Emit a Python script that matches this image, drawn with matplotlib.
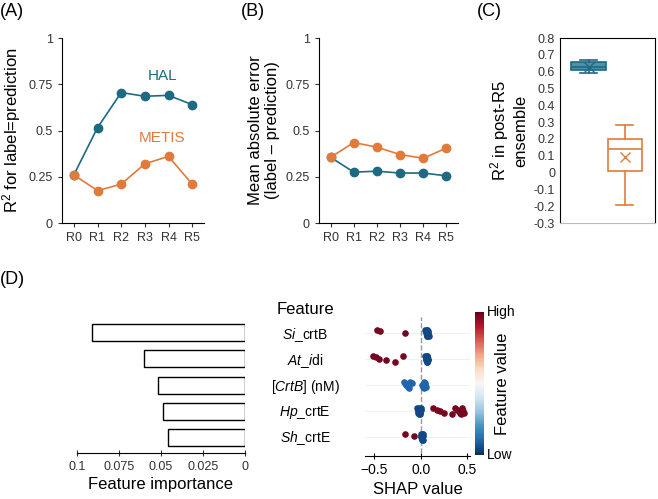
import numpy as np
import matplotlib.pyplot as plt
from matplotlib.cm import ScalarMappable
from matplotlib.colors import Normalize

plt.rcParams['font.family'] = ['Liberation Sans', 'DejaVu Sans']
plt.rcParams['mathtext.fontset'] = 'custom'
plt.rcParams['mathtext.rm'] = 'Liberation Sans'
plt.rcParams['mathtext.it'] = 'Liberation Sans:italic'

BLUE = '#1d6a82'
ORANGE = '#e07b3c'

rounds = ['R0', 'R1', 'R2', 'R3', 'R4', 'R5']
r2_hal = [0.26, 0.515, 0.705, 0.685, 0.69, 0.64]
r2_metis = [0.26, 0.175, 0.21, 0.32, 0.36, 0.21]
mae_hal = [0.355, 0.275, 0.28, 0.27, 0.27, 0.255]
mae_metis = [0.355, 0.435, 0.41, 0.37, 0.35, 0.405]

# box stats for panel C
box_hal = dict(whislo=0.59, q1=0.61, med=0.625, q3=0.655, whishi=0.67, mean=0.63, fliers=[])
box_metis = dict(whislo=-0.19, q1=0.01, med=0.14, q3=0.20, whishi=0.28, mean=0.09, fliers=[])

features = ['$\\it{Si}$_crtB', '$\\it{At\\_i}$di', '[$\\it{CrtB}$] (nM)', '$\\it{Hp}$_crtE', '$\\it{Sh}$_crtE']
importance = [0.091, 0.060, 0.052, 0.049, 0.046]

# SHAP values per feature: low-feature-value cluster and high-feature-value points
shap_low = [
    [0.04, 0.05, 0.06, 0.06, 0.07, 0.07, 0.08, 0.08, 0.09, 0.05, 0.06, 0.07, 0.08, 0.06, 0.07],
    [0.04, 0.05, 0.06, 0.06, 0.07, 0.07, 0.08, 0.08, 0.05, 0.06, 0.07, 0.06, 0.07, 0.05],
    [-0.18, -0.16, -0.14, -0.12, -0.10, -0.17, -0.13, 0.01, 0.02, 0.03, 0.04, 0.05, 0.03, 0.04],
    [-0.04, -0.03, -0.02, -0.01, 0.0, -0.03, -0.02, -0.01, -0.02, -0.03, 0.0, -0.01],
    [0.0, 0.01, 0.01, 0.02, 0.0, 0.01, 0.02, 0.01, 0.0, 0.01, 0.02, 0.01],
]
shap_high = [
    [-0.47, -0.44, -0.17],
    [-0.52, -0.48, -0.45, -0.38, -0.28, -0.19],
    [],
    [0.13, 0.17, 0.20, 0.25, 0.33, 0.37, 0.39, 0.41, 0.42, 0.43, 0.44, 0.45, 0.46, 0.44],
    [-0.17, -0.08],
]
shap_low_col = [0.05, 0.05, 0.1, 0.05, 0.05]

fig = plt.figure(figsize=(6.58, 4.99), dpi=100)
W, H = 658, 499
def ax_px(l, t, r, b):
    return fig.add_axes([l / W, 1 - b / H, (r - l) / W, (b - t) / H])

def line_panel(ax, hal, metis, ylabel):
    x = np.arange(len(rounds))
    ax.plot(x, hal, '-o', color=BLUE, ms=6, lw=1.2)
    ax.plot(x, metis, '-o', color=ORANGE, ms=6, lw=1.2)
    ax.set_xlim(-0.5, 5.5)
    ax.set_ylim(0, 1)
    ax.set_yticks([0, 0.25, 0.5, 0.75, 1])
    ax.set_yticklabels(['0', '0.25', '0.5', '0.75', '1'])
    ax.set_xticks(x)
    ax.set_xticklabels(rounds)
    for s in ['top', 'right']:
        ax.spines[s].set_visible(False)
    ax.tick_params(labelsize=9, length=3, colors='#333333')
    ax.set_ylabel(ylabel, fontsize=12)

axA = ax_px(62, 38, 204, 223)
line_panel(axA, r2_hal, r2_metis, 'R$^2$ for label=prediction')
axA.text(3.73, 0.795, 'HAL', color=BLUE, fontsize=11, ha='center', va='center')
axA.text(3.73, 0.46, 'METIS', color=ORANGE, fontsize=11, ha='center', va='center')
fig.text(0.0, 1 - 12 / H, '(A)', fontsize=13, va='center')

axB = ax_px(319, 38, 458, 223)
line_panel(axB, mae_hal, mae_metis, 'Mean absolute error\n(label \u2013 prediction)')
fig.text(241 / W, 1 - 12 / H, '(B)', fontsize=13, va='center')

axC = ax_px(560, 38, 655, 223)
bp = axC.bxp([box_hal, box_metis], positions=[0.3, 0.68], widths=[0.36, 0.36],
             showmeans=True, patch_artist=True, meanline=False)
for i, c in enumerate([BLUE, ORANGE]):
    bp['boxes'][i].set(facecolor='white' if i else '#4d90a8', edgecolor=c, lw=1.2)
    bp['medians'][i].set(color=c, lw=1.2)
    bp['means'][i].set(marker='x', markeredgecolor=c, markersize=7)
    for w in bp['whiskers'][2 * i:2 * i + 2] + bp['caps'][2 * i:2 * i + 2]:
        w.set(color=c, lw=1.2)
axC.set_xlim(0, 1)
axC.set_ylim(-0.3, 0.8)
ticksC = np.round(np.arange(-0.3, 0.81, 0.1), 1)
axC.set_yticks(ticksC)
axC.set_yticklabels([f'{v:g}' for v in ticksC])
axC.set_xticks([])
axC.tick_params(labelsize=9, length=0, colors='#333333')
axC.spines['bottom'].set_color('#bbbbbb')
axC.set_ylabel('R$^2$ in post-R5\nensemble', fontsize=12)
fig.text(477 / W, 1 - 12 / H, '(C)', fontsize=13, va='center')

fig.text(0.0, 1 - 279 / H, '(D)', fontsize=13, va='center')

# bar panel
rows = np.arange(len(features))
axD = ax_px(77, 317, 245, 453)
axD.barh(rows, importance, height=0.65, color='white', edgecolor='black', lw=1)
axD.set_xlim(0.1, 0)
axD.set_ylim(4.6, -0.6)
axD.set_yticks([])
axD.set_xticks([0.1, 0.075, 0.05, 0.025, 0])
axD.set_xticklabels(['0.1', '0.075', '0.05', '0.025', '0'])
for s in ['top', 'right', 'left']:
    axD.spines[s].set_visible(False)
axD.tick_params(axis='x', labelsize=9, length=4, direction='inout', colors='#333333')
axD.set_xlabel('Feature importance', fontsize=12, labelpad=3)

# SHAP beeswarm
axS = ax_px(365, 317, 470, 453)
cmap = plt.get_cmap('RdBu_r')
for i in rows:
    for vals, col in [(shap_low[i], shap_low_col[i]), (shap_high[i], 0.98)]:
        v = np.array(vals)
        if len(v) == 0:
            continue
        # simple deterministic swarm offsets
        order = np.argsort(v)
        offs = np.zeros(len(v))
        for k, j in enumerate(order):
            offs[j] = ((k % 5) - 2) * 0.06
        axS.scatter(v, i + offs, s=14, color=cmap(col), zorder=3)
    axS.axhline(i, color='#eeeeee', lw=0.6, zorder=1)
axS.axvline(0, color='#999999', ls='--', lw=1, zorder=2)
axS.set_xlim(-0.602, 0.527)
axS.set_ylim(4.6, -0.6)
axS.set_yticks([])
axS.set_xticks([-0.5, 0, 0.5])
axS.set_xticklabels(['\u22120.5', '0.0', '0.5'])
for s in ['top', 'right', 'left']:
    axS.spines[s].set_visible(False)
axS.spines['bottom'].set_position(('outward', 2))
axS.tick_params(labelsize=10, length=4, direction='inout')
axS.set_xlabel('SHAP value', fontsize=12, labelpad=3)

fig.text(305 / W, 1 - 310 / H, 'Feature', fontsize=12, ha='center', va='center')
for i, f in enumerate(features):
    y = 1 - (335 + i * 25.8) / H
    fig.text(305 / W, y, f, fontsize=10, ha='center', va='center')

cax = ax_px(475, 312, 484, 455)
cb = fig.colorbar(ScalarMappable(Normalize(0, 1), cmap), cax=cax)
cb.set_ticks([])
cb.outline.set_visible(False)
cax.text(1.3, 1.0, 'High', transform=cax.transAxes, fontsize=10, va='center')
cax.text(1.3, 0.0, 'Low', transform=cax.transAxes, fontsize=10, va='center')
cax.text(3.0, 0.5, 'Feature value', transform=cax.transAxes, fontsize=12,
         rotation=90, va='center', ha='center')

fig.savefig('out.png', dpi=100)
